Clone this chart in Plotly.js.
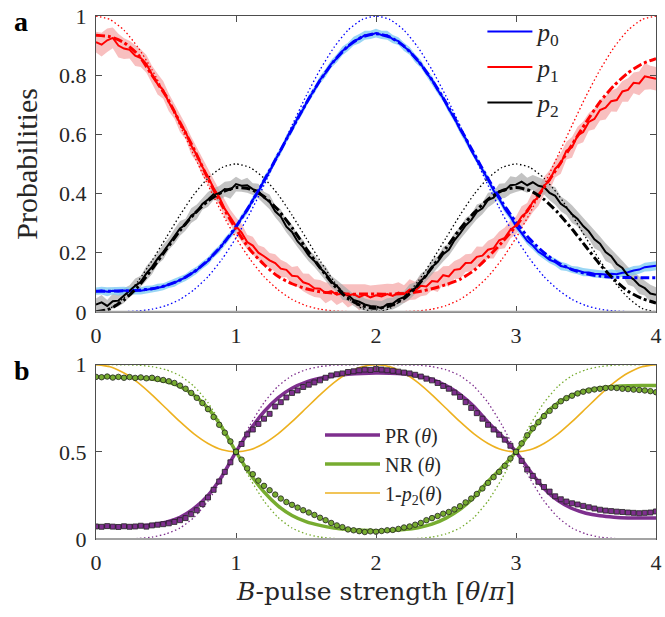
<!DOCTYPE html>
<html>
<head>
<meta charset="utf-8">
<script src="https://cdn.plot.ly/plotly-3.0.1.min.js"></script>
<style>
  html, body { margin: 0; padding: 0; background: #fff; }
  #chart { width: 665px; height: 617px; }
</style>
</head>
<body>
<div id="chart"></div>
<script>
// measured sweep, theta/pi
const thetaMeas = [
  0,0.04,0.08,0.12,0.16,0.2,0.24,0.28,0.32,0.36,
  0.4,0.44,0.48,0.52,0.56,0.6,0.64,0.68,0.72,0.76,
  0.8,0.84,0.88,0.92,0.96,1,1.04,1.08,1.12,1.16,
  1.2,1.24,1.28,1.32,1.36,1.4,1.44,1.48,1.52,1.56,
  1.6,1.64,1.68,1.72,1.76,1.8,1.84,1.88,1.92,1.96,
  2,2.04,2.08,2.12,2.16,2.2,2.24,2.28,2.32,2.36,
  2.4,2.44,2.48,2.52,2.56,2.6,2.64,2.68,2.72,2.76,
  2.8,2.84,2.88,2.92,2.96,3,3.04,3.08,3.12,3.16,
  3.2,3.24,3.28,3.32,3.36,3.4,3.44,3.48,3.52,3.56,
  3.6,3.64,3.68,3.72,3.76,3.8,3.84,3.88,3.92,3.96,
  4];

const p0Meas = [
  0.070,0.072,0.068,0.071,0.069,0.072,0.070,0.073,0.071,0.075,
  0.077,0.082,0.085,0.093,0.098,0.108,0.116,0.129,0.141,0.158,
  0.172,0.195,0.212,0.238,0.259,0.285,0.318,0.343,0.379,0.407,
  0.445,0.475,0.514,0.545,0.585,0.616,0.655,0.685,0.722,0.750,
  0.784,0.808,0.838,0.857,0.882,0.896,0.915,0.923,0.935,0.936,
  0.942,0.936,0.935,0.922,0.915,0.896,0.882,0.857,0.838,0.808,
  0.784,0.750,0.722,0.685,0.655,0.616,0.585,0.545,0.514,0.480,
  0.447,0.410,0.382,0.348,0.322,0.290,0.266,0.240,0.224,0.203,
  0.191,0.176,0.168,0.155,0.151,0.143,0.140,0.134,0.133,0.129,
  0.128,0.126,0.129,0.127,0.132,0.134,0.140,0.143,0.151,0.153,
  0.156];
const p0Err = [
  .012,.013,.015,.012,.014,.013,.012,.014,.012,.013,
  .012,.013,.012,.012,.013,.012,.012,.013,.012,.012,
  .013,.012,.012,.013,.012,.013,.012,.012,.013,.012,
  .013,.012,.013,.012,.013,.012,.013,.012,.013,.012,
  .013,.014,.013,.014,.015,.014,.015,.016,.015,.014,
  .015,.014,.015,.014,.013,.014,.013,.014,.013,.012,
  .013,.012,.013,.012,.013,.012,.013,.012,.013,.012,
  .013,.012,.013,.012,.013,.012,.013,.012,.013,.012,
  .013,.012,.013,.014,.013,.012,.013,.014,.013,.014,
  .013,.014,.015,.014,.013,.014,.015,.014,.015,.016,
  .015];

const p1Meas = [
  0.912,0.903,0.918,0.926,0.900,0.890,0.886,0.866,0.858,0.838,
  0.802,0.770,0.750,0.708,0.678,0.638,0.608,0.562,0.530,0.490,
  0.457,0.418,0.388,0.348,0.320,0.290,0.268,0.236,0.224,0.200,
  0.188,0.174,0.165,0.146,0.142,0.122,0.120,0.100,0.094,0.080,
  0.078,0.064,0.070,0.058,0.063,0.055,0.060,0.050,0.058,0.049,
  0.056,0.052,0.060,0.054,0.065,0.060,0.075,0.072,0.088,0.086,
  0.104,0.102,0.124,0.120,0.142,0.145,0.165,0.166,0.186,0.190,
  0.210,0.215,0.242,0.250,0.278,0.292,0.322,0.338,0.372,0.388,
  0.426,0.444,0.484,0.502,0.545,0.556,0.596,0.608,0.642,0.652,
  0.682,0.690,0.712,0.716,0.745,0.750,0.774,0.772,0.796,0.792,
  0.788];
const p1Err = [
  .035,.04,.04,.035,.04,.035,.03,.035,.03,.03,
  .03,.035,.03,.03,.025,.03,.025,.03,.025,.03,
  .025,.03,.025,.03,.025,.03,.03,.025,.03,.025,
  .03,.025,.03,.03,.025,.03,.035,.03,.035,.03,
  .03,.035,.03,.035,.03,.04,.035,.045,.035,.04,
  .035,.04,.035,.04,.035,.03,.035,.03,.035,.03,
  .03,.035,.03,.035,.03,.035,.03,.03,.035,.03,
  .03,.035,.03,.035,.03,.03,.035,.03,.035,.03,
  .03,.035,.03,.035,.03,.035,.03,.035,.03,.035,
  .035,.04,.035,.04,.035,.04,.035,.04,.045,.04,
  .04];

const p2Meas = [
  0.025,0.032,0.020,0.036,0.038,0.055,0.070,0.088,0.102,0.130,
  0.152,0.180,0.202,0.230,0.255,0.282,0.295,0.325,0.338,0.365,
  0.380,0.398,0.400,0.415,0.412,0.432,0.426,0.428,0.415,0.408,
  0.386,0.372,0.340,0.322,0.288,0.270,0.238,0.218,0.190,0.172,
  0.148,0.130,0.102,0.088,0.066,0.057,0.040,0.034,0.025,0.020,
  0.018,0.012,0.026,0.028,0.042,0.050,0.068,0.080,0.105,0.122,
  0.152,0.168,0.195,0.210,0.242,0.265,0.292,0.310,0.338,0.350,
  0.378,0.386,0.408,0.410,0.428,0.430,0.440,0.428,0.438,0.426,
  0.422,0.402,0.392,0.365,0.352,0.330,0.314,0.290,0.272,0.245,
  0.230,0.202,0.188,0.162,0.148,0.122,0.110,0.090,0.080,0.062,
  0.058];
const p2Err = [
  .02,.025,.02,.025,.02,.025,.02,.025,.02,.025,
  .025,.02,.025,.02,.025,.025,.02,.025,.025,.02,
  .025,.02,.025,.025,.03,.025,.02,.025,.02,.025,
  .02,.025,.02,.025,.02,.025,.02,.025,.02,.02,
  .02,.025,.02,.02,.025,.02,.02,.025,.02,.02,
  .02,.025,.02,.02,.025,.02,.025,.02,.025,.02,
  .025,.02,.025,.02,.025,.02,.025,.02,.025,.02,
  .025,.02,.025,.025,.03,.025,.03,.025,.025,.03,
  .025,.025,.03,.025,.025,.03,.025,.03,.025,.03,
  .025,.03,.025,.03,.025,.03,.025,.03,.025,.03,
  .025];

// fits and ideal curves, theta/pi grid
const thetaFit = [
  0,0.1,0.2,0.3,0.4,0.5,0.6,0.7,0.8,0.9,
  1,1.1,1.2,1.3,1.4,1.5,1.6,1.7,1.8,1.9,
  2,2.1,2.2,2.3,2.4,2.5,2.6,2.7,2.8,2.9,
  3,3.1,3.2,3.3,3.4,3.5,3.6,3.7,3.8,3.9,
  4];

const p0Fit = [
  0.070,0.070,0.071,0.073,0.078,0.089,0.107,0.135,0.174,0.225,
  0.288,0.361,0.443,0.530,0.618,0.704,0.782,0.848,0.898,0.929,
  0.940,0.929,0.898,0.849,0.784,0.707,0.622,0.535,0.450,0.372,
  0.303,0.245,0.200,0.166,0.143,0.129,0.121,0.117,0.116,0.115,
  0.115];
const p1Fit = [
  0.935,0.930,0.910,0.870,0.800,0.730,0.640,0.550,0.450,0.360,
  0.280,0.210,0.160,0.120,0.095,0.078,0.068,0.063,0.060,0.060,
  0.060,0.060,0.062,0.068,0.078,0.092,0.110,0.140,0.185,0.235,
  0.290,0.355,0.420,0.490,0.565,0.640,0.710,0.765,0.808,0.838,
  0.856];
const p2Fit = [
  0.000,0.010,0.040,0.085,0.145,0.210,0.275,0.330,0.375,0.405,
  0.420,0.415,0.390,0.345,0.285,0.215,0.150,0.090,0.045,0.020,
  0.012,0.020,0.045,0.090,0.150,0.215,0.280,0.335,0.380,0.410,
  0.420,0.410,0.380,0.335,0.280,0.220,0.160,0.110,0.070,0.045,
  0.030];

const p0Ideal = [
  0,0,0.001,0.003,0.009,0.021,0.042,0.075,0.119,0.178,
  0.25,0.334,0.428,0.529,0.630,0.729,0.818,0.894,0.952,0.988,
  1,0.988,0.952,0.894,0.818,0.729,0.630,0.529,0.428,0.334,
  0.25,0.178,0.119,0.075,0.042,0.021,0.009,0.003,0.001,0,
  0];
const p1Ideal = [
  1,0.988,0.952,0.894,0.818,0.729,0.630,0.529,0.428,0.334,
  0.25,0.178,0.119,0.075,0.042,0.021,0.009,0.003,0.001,0,
  0,0,0.001,0.003,0.009,0.021,0.042,0.075,0.119,0.178,
  0.25,0.334,0.428,0.529,0.630,0.729,0.818,0.894,0.952,0.988,
  1];
const p2Ideal = [
  0,0.012,0.048,0.103,0.173,0.25,0.327,0.397,0.452,0.488,
  0.5,0.488,0.452,0.397,0.327,0.25,0.173,0.103,0.048,0.012,
  0,0.012,0.048,0.103,0.173,0.25,0.327,0.397,0.452,0.488,
  0.5,0.488,0.452,0.397,0.327,0.25,0.173,0.103,0.048,0.012,
  0];

// panel b
const prMeas = [
  0.072,0.070,0.074,0.071,0.069,0.073,0.070,0.072,0.076,0.071,
  0.078,0.082,0.085,0.090,0.098,0.108,0.120,0.142,0.165,0.200,
  0.238,0.282,0.330,0.385,0.440,0.500,0.545,0.600,0.628,0.660,
  0.690,0.718,0.760,0.785,0.812,0.838,0.852,0.872,0.885,0.898,
  0.910,0.925,0.938,0.945,0.950,0.958,0.962,0.968,0.972,0.970,
  0.975,0.972,0.968,0.965,0.960,0.955,0.950,0.942,0.932,0.920,
  0.910,0.895,0.878,0.862,0.840,0.815,0.785,0.752,0.722,0.690,
  0.655,0.628,0.598,0.570,0.535,0.500,0.448,0.398,0.362,0.328,
  0.298,0.272,0.245,0.228,0.215,0.205,0.198,0.190,0.182,0.175,
  0.168,0.163,0.160,0.157,0.155,0.152,0.150,0.148,0.150,0.152,
  0.158];
const nrMeas = [
  0.930,0.928,0.932,0.926,0.930,0.925,0.929,0.924,0.927,0.922,
  0.925,0.918,0.912,0.905,0.895,0.880,0.862,0.838,0.810,0.780,
  0.745,0.700,0.655,0.610,0.560,0.500,0.455,0.405,0.372,0.335,
  0.305,0.280,0.255,0.232,0.212,0.196,0.180,0.165,0.152,0.138,
  0.122,0.108,0.092,0.078,0.068,0.055,0.050,0.045,0.040,0.044,
  0.042,0.046,0.050,0.052,0.058,0.066,0.072,0.082,0.092,0.108,
  0.120,0.132,0.145,0.155,0.170,0.188,0.210,0.232,0.258,0.290,
  0.322,0.355,0.385,0.420,0.462,0.500,0.548,0.595,0.635,0.670,
  0.705,0.735,0.762,0.790,0.808,0.822,0.835,0.845,0.852,0.858,
  0.862,0.866,0.868,0.866,0.862,0.860,0.857,0.855,0.852,0.848,
  0.842];

const prFit = [
  0.070,0.071,0.072,0.075,0.082,0.097,0.125,0.175,0.250,0.360,
  0.500,0.625,0.730,0.810,0.865,0.900,0.922,0.937,0.945,0.950,
  0.952,0.951,0.946,0.935,0.915,0.880,0.830,0.760,0.670,0.590,
  0.500,0.390,0.290,0.220,0.175,0.148,0.133,0.125,0.121,0.120,
  0.120];
const nrFit = [
  0.930,0.929,0.928,0.925,0.918,0.903,0.875,0.825,0.750,0.640,
  0.500,0.375,0.270,0.190,0.135,0.100,0.078,0.063,0.055,0.050,
  0.048,0.049,0.054,0.065,0.085,0.120,0.170,0.240,0.330,0.410,
  0.500,0.610,0.710,0.780,0.825,0.852,0.867,0.875,0.879,0.880,
  0.880];
const prIdeal = [
  0,0,0.001,0.003,0.011,0.029,0.063,0.124,0.218,0.347,
  0.5,0.653,0.782,0.876,0.937,0.971,0.989,0.997,0.999,1,
  1,1,0.999,0.997,0.989,0.971,0.937,0.876,0.782,0.653,
  0.5,0.347,0.218,0.124,0.063,0.029,0.011,0.003,0.001,0,
  0];
const nrIdeal = [
  1,1,0.999,0.997,0.989,0.971,0.937,0.876,0.782,0.653,
  0.5,0.347,0.218,0.124,0.063,0.029,0.011,0.003,0.001,0,
  0,0,0.001,0.003,0.011,0.029,0.063,0.124,0.218,0.347,
  0.5,0.653,0.782,0.876,0.937,0.971,0.989,0.997,0.999,1,
  1];
const oneMinusP2 = [
  1,0.988,0.952,0.897,0.827,0.75,0.673,0.603,0.548,0.512,
  0.5,0.512,0.548,0.603,0.673,0.75,0.827,0.897,0.952,0.988,
  1,0.988,0.952,0.897,0.827,0.75,0.673,0.603,0.548,0.512,
  0.5,0.512,0.548,0.603,0.673,0.75,0.827,0.897,0.952,0.988,
  1];

const FONT = '"Liberation Serif", serif';
const MATHFONT = '"DejaVu Serif", serif';
const DOT = '1.5px,2.5px';

function band(y, err, color) {
    const up = y.map((v, i) => v + err[i]);
    const lo = y.map((v, i) => v - err[i]).reverse();
    return {
        x: thetaMeas.concat(thetaMeas.slice().reverse()),
        y: up.concat(lo),
        type: 'scatter', mode: 'lines',
        fill: 'toself', fillcolor: color,
        line: { width: 0 }, hoverinfo: 'skip',
        showlegend: false, xaxis: 'x', yaxis: 'y'
    };
}
function line(x, y, color, width, dash, ax, extra) {
    return Object.assign({
        x: x, y: y, type: 'scatter', mode: 'lines',
        line: { color: color, width: width, dash: dash, shape: 'spline', smoothing: 0.6 },
        showlegend: false,
        xaxis: ax ? 'x2' : 'x', yaxis: ax ? 'y2' : 'y'
    }, extra || {});
}

const traces = [
    band(p1Meas, p1Err, 'rgba(246,170,170,0.75)'),
    band(p2Meas, p2Err, 'rgba(170,170,170,0.7)'),
    band(p0Meas, p0Err, 'rgba(120,200,240,0.75)'),

    line(thetaFit, p0Ideal, '#0000ff', 1.3, DOT),
    line(thetaFit, p1Ideal, '#ff0000', 1.3, DOT),
    line(thetaFit, p2Ideal, '#000000', 1.3, DOT),

    line(thetaMeas, p0Meas, '#0000ff', 2, 'solid', 0, { name: '<i>p</i><sub>0</sub>', showlegend: true, line: { color: '#0000ff', width: 2 } }),
    line(thetaMeas, p1Meas, '#ff0000', 2, 'solid', 0, { name: '<i>p</i><sub>1</sub>', showlegend: true, line: { color: '#ff0000', width: 2 } }),
    line(thetaMeas, p2Meas, '#000000', 2, 'solid', 0, { name: '<i>p</i><sub>2</sub>', showlegend: true, line: { color: '#000000', width: 2 } }),

    line(thetaFit, p0Fit, '#0000ff', 3, 'dashdot'),
    line(thetaFit, p1Fit, '#ff0000', 3, 'dashdot'),
    line(thetaFit, p2Fit, '#000000', 3, 'dashdot'),

    // panel b
    line(thetaFit, prIdeal, '#7E2F8E', 1.3, DOT, 1),
    line(thetaFit, nrIdeal, '#77AC30', 1.3, DOT, 1),
    line(thetaFit, prFit, '#7E2F8E', 3.5, 'solid', 1, { name: 'PR (<i>θ</i>)', showlegend: true, legend: 'legend2' }),
    line(thetaFit, nrFit, '#77AC30', 3.5, 'solid', 1, { name: 'NR (<i>θ</i>)', showlegend: true, legend: 'legend2' }),
    line(thetaFit, oneMinusP2, '#EDB120', 1.6, 'solid', 1, { name: '1-<i>p</i><sub>2</sub>(<i>θ</i>)', showlegend: true, legend: 'legend2' }),
    {
        x: thetaMeas, y: prMeas, type: 'scatter', mode: 'markers',
        marker: { symbol: 'square', size: 5, color: '#7E2F8E', line: { color: '#222', width: 0.8 } },
        showlegend: false, xaxis: 'x2', yaxis: 'y2'
    },
    {
        x: thetaMeas, y: nrMeas, type: 'scatter', mode: 'markers',
        marker: { symbol: 'circle', size: 5.5, color: '#77AC30', line: { color: '#222', width: 0.8 } },
        showlegend: false, xaxis: 'x2', yaxis: 'y2'
    }
];

const axisBase = {
    range: [0, 4], showgrid: false, zeroline: false,
    showline: true, linecolor: '#4d4d4d', linewidth: 1, mirror: 'ticks',
    ticks: 'inside', ticklen: 6, tickcolor: '#4d4d4d',
    tickfont: { family: FONT, size: 22, color: '#262626' },
    ticklabelstandoff: 4, tickvals: [0, 1, 2, 3, 4]
};

// light grey lower frame edge, as in the original figure
function baseEdge(xr, yr) {
    return { type: 'line', xref: xr + ' domain', yref: yr + ' domain', x0: 0, x1: 1, y0: 0, y1: 0,
             line: { color: '#a3a3a3', width: 2 }, layer: 'above' };
}

const layout = {
    width: 665, height: 617,
    margin: { l: 96, r: 9, t: 14, b: 78 },
    paper_bgcolor: '#ffffff', plot_bgcolor: '#ffffff',
    font: { family: FONT, color: '#262626' },
    xaxis: Object.assign({}, axisBase, { anchor: 'y' }),
    yaxis: Object.assign({}, axisBase, {
        range: [0, 1], domain: [0.4343, 1], anchor: 'x',
        tickvals: [0, 0.2, 0.4, 0.6, 0.8, 1],
        title: { text: 'Probabilities', font: { family: FONT, size: 30, color: '#262626' }, standoff: 12 }
    }),
    xaxis2: Object.assign({}, axisBase, {
        anchor: 'y2',
        title: { text: '<i>B</i>-pulse strength [<i>θ</i>/<i>π</i>]', font: { family: MATHFONT, size: 25, color: '#262626' }, standoff: 8 }
    }),
    yaxis2: Object.assign({}, axisBase, {
        range: [0, 1], domain: [0, 0.3333], anchor: 'x2',
        tickvals: [0, 0.5, 1]
    }),
    legend: {
        x: 0.69, y: 1.014, xanchor: 'left', yanchor: 'top',
        bgcolor: 'rgba(0,0,0,0)', itemwidth: 45, tracegroupgap: 0,
        font: { family: FONT, size: 25, color: '#262626' }
    },
    legend2: {
        x: 0.40, y: 0.236, xanchor: 'left', yanchor: 'top',
        bgcolor: 'rgba(0,0,0,0)', itemwidth: 55, tracegroupgap: 0,
        font: { family: FONT, size: 20, color: '#262626' }
    },
    shapes: [baseEdge('x', 'y'), baseEdge('x2', 'y2')],
    annotations: [
        { text: '<b>a</b>', xref: 'paper', yref: 'paper', x: -0.15, y: 0.99, xanchor: 'left', yanchor: 'middle',
          showarrow: false, font: { family: FONT, size: 28, color: '#000' } },
        { text: '<b>b</b>', xref: 'paper', yref: 'paper', x: -0.15, y: 0.323, xanchor: 'left', yanchor: 'middle',
          showarrow: false, font: { family: FONT, size: 28, color: '#000' } }
    ],
    showlegend: true
};

Plotly.newPlot('chart', traces, layout, { displayModeBar: false, staticPlot: true });
</script>
</body>
</html>
